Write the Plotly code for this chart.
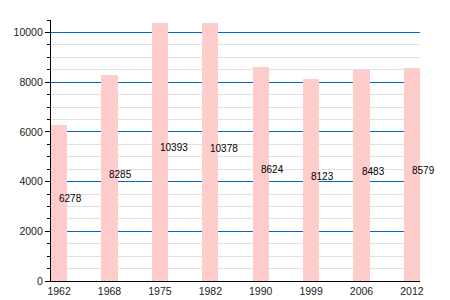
import plotly.graph_objects as go

years = ["1962", "1968", "1975", "1982", "1990", "1999", "2006", "2012"]
population = [6278, 8285, 10393, 10378, 8624, 8123, 8483, 8579]

BAR_COLOR = "#ffcccc"
FONT = "Liberation Sans, Arial, sans-serif"

fig = go.Figure()
fig.add_trace(go.Bar(
    x=years, y=population, width=0.32,
    marker=dict(color=BAR_COLOR, line=dict(width=0)),
    hoverinfo="skip",
))

for i, v in enumerate(population):
    fig.add_annotation(
        x=i, y=v / 2, text=str(v), showarrow=False,
        xanchor="left", yanchor="middle", xshift=-2, yshift=4,
        font=dict(family=FONT, size=10, color="black"),
    )

fig.update_layout(
    width=450, height=300,
    margin=dict(l=51, r=30, t=20, b=19, autoexpand=False),
    paper_bgcolor="white", plot_bgcolor="white",
    showlegend=False,
    font=dict(family=FONT, size=10.5, color="#222"),
    bargap=0,
)
fig.update_xaxes(
    type="category", range=[-0.16, 7.16], automargin=False,
    showline=True, linecolor="black", linewidth=1.3,
    ticks="", ticklen=0, showgrid=False, zeroline=False,
    tickfont=dict(family=FONT, size=10.5, color="#222"),
)
fig.update_yaxes(
    range=[0, 10500], dtick=2000, tick0=0, tickformat="d", automargin=False,
    showline=True, linecolor="black", linewidth=1.3,
    ticks="outside", ticklen=5, tickcolor="black", tickwidth=1,
    showgrid=True, gridcolor="#0066cc", gridwidth=1,
    zeroline=False,
    minor=dict(dtick=500, tick0=0, ticks="outside", ticklen=3,
               tickcolor="black", showgrid=True, gridcolor="#e0e0e0", gridwidth=1),
    tickfont=dict(family=FONT, size=10.5, color="#222"),
)

fig.write_html("out.html")
